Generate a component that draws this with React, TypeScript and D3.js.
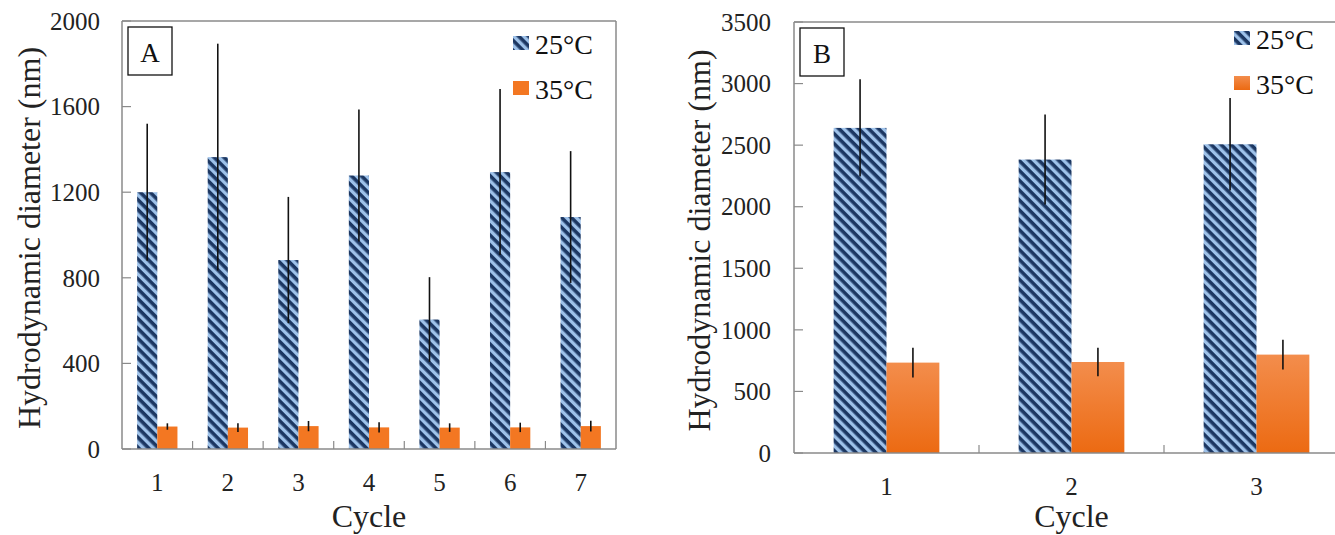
import React from "react";
import * as d3 from "d3";

// ---- Data ----
const cyclesA = ["1", "2", "3", "4", "5", "6", "7"];
const a25 = [1200, 1364, 883, 1278, 605, 1294, 1084];
const a25Err = [320, 530, 295, 308, 198, 388, 308];
const a35 = [105, 100, 107, 101, 100, 101, 107];
const a35Err = [15, 20, 24, 24, 20, 22, 25];
const ticksA = [0, 400, 800, 1200, 1600, 2000];

const cyclesB = ["1", "2", "3"];
const b25 = [2640, 2383, 2507];
const b25Err = [395, 365, 375];
const b35 = [734, 739, 799];
const b35Err = [120, 115, 120];
const ticksB = [0, 500, 1000, 1500, 2000, 2500, 3000, 3500];

const seriesNames = ["25°C", "35°C"];
const yTitle = "Hydrodynamic diameter (nm)";
const xTitle = "Cycle";

const FONT = "'Liberation Serif', 'Times New Roman', serif";
const AXIS = "#8a8a8a";

type PanelProps = {
  label: string;
  cats: string[];
  s1: number[];
  e1: number[];
  s2: number[];
  e2: number[];
  ticks: number[];
  left: number;
  right: number;
  top: number;
  bottom: number;
  frameRight: boolean;
  yLabelX: number;
  yTitleX: number;
  xLabelY: number;
  legendX: number;
  legendY: number;
  orangeFill: string;
};

function Panel(p: PanelProps) {
  const x = d3.scaleBand<string>().domain(p.cats).range([p.left, p.right]).padding(0);
  const yMax = p.ticks[p.ticks.length - 1];
  const y = d3.scaleLinear().domain([0, yMax]).range([p.bottom, p.top]);
  const bw = x.bandwidth() / 3.5;
  const boundaries = p.cats.slice(1).map((c) => x(c) as number);
  const cx = (p.left + p.right) / 2;
  return (
    <g>
      {/* bars */}
      {p.cats.map((c, i) => {
        const c0 = (x(c) as number) + x.bandwidth() / 2;
        const x1 = c0 - bw;
        const x2 = c0;
        return (
          <g key={c}>
            <rect x={x1} y={y(p.s1[i])} width={bw} height={p.bottom - y(p.s1[i])} fill="url(#stripes)" />
            <rect x={x2} y={y(p.s2[i])} width={bw} height={p.bottom - y(p.s2[i])} fill={p.orangeFill} />
            <line x1={x1 + bw / 2} x2={x1 + bw / 2} y1={y(p.s1[i] + p.e1[i])} y2={y(p.s1[i] - p.e1[i])} stroke="#111" strokeWidth={1.6} />
            <line x1={x2 + bw / 2} x2={x2 + bw / 2} y1={y(p.s2[i] + p.e2[i])} y2={y(p.s2[i] - p.e2[i])} stroke="#111" strokeWidth={1.6} />
          </g>
        );
      })}
      {/* frame / axes */}
      <line x1={p.left} x2={p.right} y1={p.top} y2={p.top} stroke={AXIS} strokeWidth={1.5} />
      {p.frameRight && <line x1={p.right} x2={p.right} y1={p.top} y2={p.bottom} stroke={AXIS} strokeWidth={1.5} />}
      <line x1={p.left} x2={p.left} y1={p.top} y2={p.bottom} stroke={AXIS} strokeWidth={1.5} />
      <line x1={p.left} x2={p.right} y1={p.bottom} y2={p.bottom} stroke={AXIS} strokeWidth={1.5} />
      {p.ticks.map((t) => (
        <g key={t}>
          <line x1={p.left} x2={p.left + 9} y1={y(t)} y2={y(t)} stroke={AXIS} strokeWidth={1.2} />
          <text x={p.yLabelX} y={y(t)} dy="0.35em" textAnchor="end" fontSize={25} fontFamily={FONT} fill="#222">
            {t}
          </text>
        </g>
      ))}
      {boundaries.map((b, i) => (
        <line key={i} x1={b} x2={b} y1={p.bottom} y2={p.bottom - 8} stroke={AXIS} strokeWidth={1.2} />
      ))}
      {p.cats.map((c) => (
        <text key={c} x={(x(c) as number) + x.bandwidth() / 2} y={p.xLabelY} textAnchor="middle" fontSize={25} fontFamily={FONT} fill="#222">
          {c}
        </text>
      ))}
      <text x={cx} y={527} textAnchor="middle" fontSize={32} fontFamily={FONT} fill="#222">
        {xTitle}
      </text>
      <text
        transform={`translate(${p.yTitleX},${(p.top + p.bottom) / 2 + 3}) rotate(-90)`}
        textAnchor="middle"
        fontSize={32}
        fontFamily={FONT}
        fill="#222"
      >
        {yTitle}
      </text>
      {/* panel label */}
      <rect x={p.left + 6} y={p.top + 6} width={44} height={48} fill="white" stroke="#111" strokeWidth={1.3} />
      <text x={p.left + 28} y={p.top + 41} textAnchor="middle" fontSize={27} fontFamily={FONT} fill="#111">
        {p.label}
      </text>
      {/* legend */}
      <rect x={p.legendX} y={p.legendY} width={16} height={14} fill="url(#stripes)" />
      <text x={p.legendX + 22} y={p.legendY + 18} fontSize={28} fontFamily={FONT} fill="#111">
        {seriesNames[0]}
      </text>
      <rect x={p.legendX} y={p.legendY + 45} width={16} height={14} fill={p.orangeFill} />
      <text x={p.legendX + 22} y={p.legendY + 63} fontSize={28} fontFamily={FONT} fill="#111">
        {seriesNames[1]}
      </text>
    </g>
  );
}

export default function App() {
  return (
    <svg
      width={1335}
      height={535}
      style={{ position: "absolute", left: 0, top: 0, background: "white" }}
    >
      <defs>
        <pattern id="stripes" patternUnits="userSpaceOnUse" width={10} height={7} patternTransform="rotate(45)">
          <rect x={0} y={0} width={10} height={7} fill="#9ec2ea" />
          <rect x={0} y={0} width={10} height={3.6} fill="#1c3762" />
        </pattern>
        <linearGradient id="orangeGrad" x1="0" y1="0" x2="0" y2="1">
          <stop offset="0" stopColor="#f38d4c" />
          <stop offset="1" stopColor="#ec6a12" />
        </linearGradient>
      </defs>
      <rect width={1335} height={535} fill="white" />
      <Panel
        label="A"
        cats={cyclesA}
        s1={a25}
        e1={a25Err}
        s2={a35}
        e2={a35Err}
        ticks={ticksA}
        left={122}
        right={616}
        top={21}
        bottom={449}
        frameRight={true}
        yLabelX={100}
        yTitleX={40}
        xLabelY={491}
        legendX={513}
        legendY={36}
        orangeFill="#f37722"
      />
      <Panel
        label="B"
        cats={cyclesB}
        s1={b25}
        e1={b25Err}
        s2={b35}
        e2={b35Err}
        ticks={ticksB}
        left={794}
        right={1349}
        top={22}
        bottom={453}
        frameRight={false}
        yLabelX={771}
        yTitleX={710}
        xLabelY={495}
        legendX={1234}
        legendY={31}
        orangeFill="url(#orangeGrad)"
      />
    </svg>
  );
}
